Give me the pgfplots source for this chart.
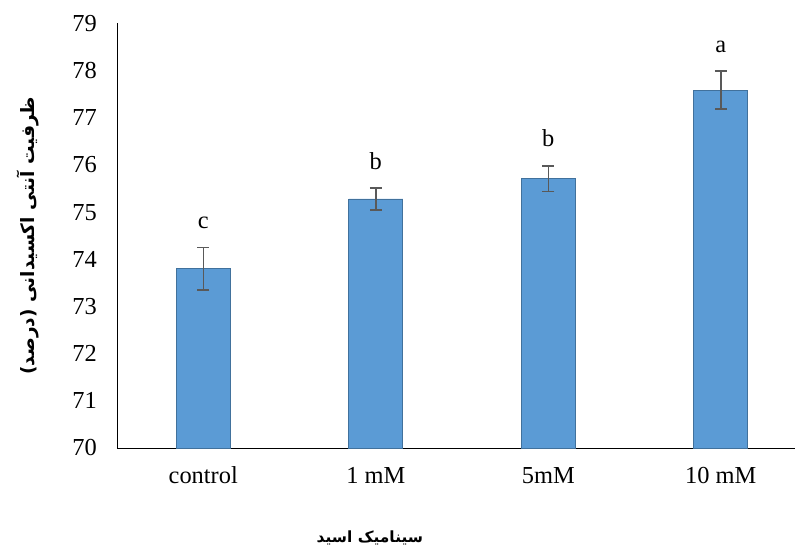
\documentclass[border=0pt]{standalone}
\usepackage{fontspec}
\setmainfont{Liberation Serif}
\newfontfamily\arabicfont[Script=Arabic,BoldFont={DejaVu Sans Bold}]{DejaVu Sans}
\TeXXeTstate=1
\usepackage{pgfplots}
\pgfplotsset{compat=1.18}
\definecolor{barblue}{HTML}{5B9BD5}
\definecolor{baredge}{HTML}{41719C}
\definecolor{errgray}{HTML}{595959}
\begin{document}
\begin{tikzpicture}
\useasboundingbox (0,0) rectangle (795bp,550bp);
\begin{axis}[
  at={(117bp,102bp)}, anchor=south west,
  scale only axis,
  width=678bp, height=424.5bp,
  xmin=-0.5, xmax=3.43,
  ymin=70, ymax=79,
  ytick={70,71,72,73,74,75,76,77,78,79},
  xtick={0,1,2,3},
  xticklabels={control,1 mM,5mM,10 mM},
  axis x line=bottom, axis y line=left,
  axis line style={-, black, line width=0.9bp},
  major tick length=0pt,
  tick label style={font=\fontsize{24.5}{28}\selectfont},
  /pgf/number format/assume math mode=true,
  yticklabel style={anchor=east, inner sep=0pt, xshift=-20bp},
  xticklabel style={anchor=base, inner sep=0pt, yshift=-36bp},
  ylabel={\arabicfont\bfseries\beginR ظرفیت آنتی اکسیدانی (درصد)\endR},
  ylabel style={at={(axis description cs:-0.131,0.5)}, anchor=center, font=\fontsize{18.5}{22}\selectfont},
  xlabel={\arabicfont\bfseries\beginR سینامیک اسید\endR},
  xlabel style={at={(axis description cs:0.373,0)}, anchor=center, yshift=-90bp, font=\fontsize{15.5}{19}\selectfont},
  clip=false,
]
\addplot[ybar, bar width=54bp, fill=barblue, draw=baredge, line width=0.8bp,
  error bars/.cd, y dir=both, y explicit,
  error bar style={color=errgray, line width=1.5bp},
  error mark options={rotate=90, mark size=6bp, line width=1.5bp, color=errgray}]
  coordinates {
  (0,73.80) +- (0,0.45)
  (1,75.28) +- (0,0.23)
  (2,75.71) +- (0,0.27)
  (3,77.59) +- (0,0.40)
};
\addplot[draw=none, mark=none, nodes near coords, point meta=explicit symbolic,
  every node near coord/.style={anchor=base, inner sep=0pt, yshift=19bp, font=\fontsize{24.5}{28}\selectfont, text=black}]
  coordinates {
  (0,74.25) [c]
  (1,75.51) [b]
  (2,75.98) [b]
  (3,77.99) [a]
};
\end{axis}
\end{tikzpicture}
\end{document}
